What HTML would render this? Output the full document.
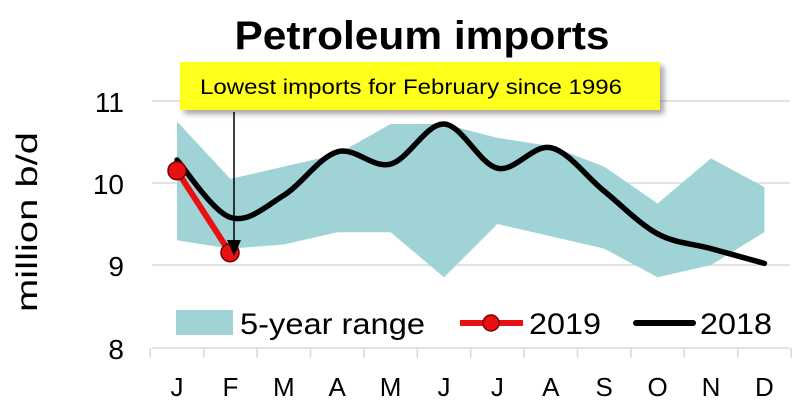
<!DOCTYPE html>
<html><head><meta charset="utf-8"><style>
html,body{margin:0;padding:0;background:#fff;}
svg{display:block;font-family:"Liberation Sans",sans-serif;}
</style></head><body>
<svg id="s" width="800" height="414" viewBox="0 0 800 414" xmlns="http://www.w3.org/2000/svg">
<defs><filter id="sh" x="-10%" y="-10%" width="130%" height="150%"><feDropShadow dx="4" dy="4" stdDeviation="3" flood-color="#000" flood-opacity="0.35"/></filter></defs>
<text x="422" y="49" text-anchor="middle" font-size="40" font-weight="bold" textLength="375" lengthAdjust="spacingAndGlyphs">Petroleum imports</text>
<g stroke="#d9d9d9" stroke-width="1.5">
<line x1="152" y1="101" x2="790" y2="101"/><line x1="152" y1="183" x2="790" y2="183"/><line x1="152" y1="265" x2="790" y2="265"/>
</g>
<g id="band"></g>
<g stroke="#d9d9d9" stroke-width="1.5" id="ax"><line x1="152" y1="348" x2="790" y2="348"/></g>
<g font-size="28" text-anchor="end">
<text x="124" y="112">11</text><text x="124" y="194">10</text><text x="124" y="276">9</text><text x="124" y="359">8</text>
</g>
<text transform="translate(37,222) rotate(-90)" text-anchor="middle" font-size="30" textLength="180" lengthAdjust="spacingAndGlyphs">million b/d</text>
<g font-size="26" text-anchor="middle" id="xl"></g>
<path id="l18" fill="none" stroke="#000" stroke-width="5.5" stroke-linejoin="round" stroke-linecap="round"/>
<line x1="177" y1="170.7" x2="230" y2="252.7" stroke="#e81010" stroke-width="6"/>
<circle cx="177" cy="170.7" r="9" fill="#e81010" stroke="#7a0000" stroke-width="1.5"/>
<circle cx="230" cy="252.7" r="9" fill="#e81010" stroke="#7a0000" stroke-width="1.5"/>
<rect x="180" y="62" width="480" height="48" fill="#ffff1a" filter="url(#sh)"/>
<text x="200" y="94" font-size="21" textLength="422" lengthAdjust="spacingAndGlyphs">Lowest imports for February since 1996</text>
<line x1="234" y1="112" x2="234" y2="240" stroke="#000" stroke-width="1.5"/>
<polygon points="227,240 241,240 234,256" fill="#000"/>
<rect x="176" y="310" width="57" height="25" fill="#9fd3d6"/>
<text x="240" y="334" font-size="30" textLength="185" lengthAdjust="spacingAndGlyphs">5-year range</text>
<line x1="460" y1="323" x2="523" y2="323" stroke="#e81010" stroke-width="6"/>
<circle cx="491" cy="323" r="8" fill="#e81010" stroke="#7a0000" stroke-width="1.5"/>
<text x="529" y="334" font-size="30" textLength="72" lengthAdjust="spacingAndGlyphs">2019</text>
<line x1="636" y1="323" x2="693" y2="323" stroke="#000" stroke-width="6" stroke-linecap="round"/>
<text x="700" y="334" font-size="30" textLength="72" lengthAdjust="spacingAndGlyphs">2018</text>
</svg>
<script>
var X=i=>177+53.4*i, Y=v=>183-(v-10)*82;
var up=[10.75,10.05,10.2,10.35,10.72,10.72,10.55,10.45,10.2,9.75,10.3,9.95];
var lo=[9.3,9.2,9.25,9.4,9.4,8.85,9.5,9.35,9.2,8.85,9.0,9.4];
var d18=[10.28,9.58,9.85,10.38,10.23,10.72,10.18,10.43,9.9,9.38,9.2,9.02];
var ns="http://www.w3.org/2000/svg";
var pts=up.map((v,i)=>X(i)+","+Y(v)).concat(lo.map((v,i)=>[i,v]).reverse().map(a=>X(a[0])+","+Y(a[1])));
var pg=document.createElementNS(ns,"polygon");pg.setAttribute("points",pts.join(" "));pg.setAttribute("fill","#9fd3d6");
document.getElementById("band").appendChild(pg);
var P=d18.map((v,i)=>[X(i),Y(v)]);
var d="M"+P[0][0]+","+P[0][1];
for(var i=0;i<P.length-1;i++){var p0=P[Math.max(i-1,0)],p1=P[i],p2=P[i+1],p3=P[Math.min(i+2,P.length-1)];
var t=6;d+=" C"+(p1[0]+(p2[0]-p0[0])/t)+","+(p1[1]+(p2[1]-p0[1])/t)+" "+(p2[0]-(p3[0]-p1[0])/t)+","+(p2[1]-(p3[1]-p1[1])/t)+" "+p2[0]+","+p2[1];}
document.getElementById("l18").setAttribute("d",d);
var L="JFMAMJJASOND",xl=document.getElementById("xl"),ax=document.getElementById("ax");
for(var i=0;i<12;i++){var t=document.createElementNS(ns,"text");t.setAttribute("x",X(i));t.setAttribute("y",396);t.textContent=L[i];xl.appendChild(t);}
for(var i=0;i<=12;i++){var l=document.createElementNS(ns,"line");var x=X(i)-26.7;l.setAttribute("x1",x);l.setAttribute("x2",x);l.setAttribute("y1",348);l.setAttribute("y2",358);ax.appendChild(l);}
</script>
</body></html>
